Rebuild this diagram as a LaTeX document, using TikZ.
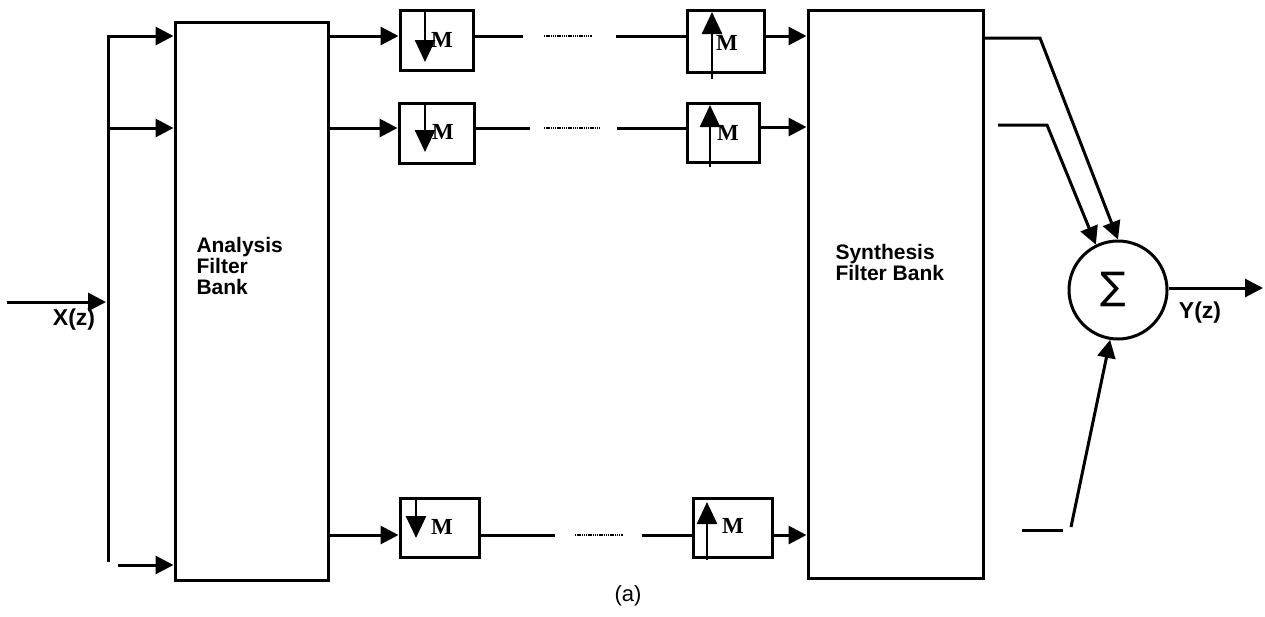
\documentclass[tikz,border=0pt]{standalone}
\usepackage{fontspec}
\setmainfont{Liberation Sans}
\newfontfamily\timesf{Liberation Serif}
\newfontfamily\dejavu{DejaVu Sans}
\usetikzlibrary{arrows.meta}
\begin{document}
\begin{tikzpicture}[x=1pt,y=-1pt, line width=3pt,
  arr/.style={-{Triangle[length=18pt,width=18pt]}},
  inarr/.style={line width=2.6pt,-{Triangle[length=22pt,width=20pt]}},
  blk/.style={draw, rectangle, inner sep=0pt},
  lbl/.style={font=\fontsize{21}{21}\selectfont\bfseries, align=left, inner sep=0pt},
  sig/.style={font=\fontsize{23}{23}\selectfont\bfseries, inner sep=0pt},
  mlab/.style={font=\timesf\fontsize{23}{23}\selectfont\bfseries, inner sep=0pt},
  dots/.style={line width=2.2pt, dash pattern=on 1.4pt off 0.8pt}]
\useasboundingbox (0,0) rectangle (1265,616);

% main blocks
\node[blk, minimum width=153pt, minimum height=558pt] (ana) at (251.5,301) {};
\node[lbl, anchor=north west] (anat) at (195,236) {Analysis\\Filter\\Bank};
\node[blk, minimum width=175pt, minimum height=568pt] (syn) at (895.5,294) {};
\node[lbl, anchor=north west] (synt) at (834,243) {Synthesis\\Filter Bank};

% down-samplers
\node[blk, minimum width=73pt, minimum height=60pt] (d1) at (436.5,40) {};
\node[blk, minimum width=75pt, minimum height=60pt] (d2) at (436.5,133) {};
\node[blk, minimum width=79pt, minimum height=59pt] (d3) at (439.5,527.5) {};
% up-samplers
\node[blk, minimum width=77pt, minimum height=62pt] (u1) at (725.5,41) {};
\node[blk, minimum width=72pt, minimum height=59pt] (u2) at (723,132.5) {};
\node[blk, minimum width=79pt, minimum height=59pt] (u3) at (732.5,527.5) {};

% M labels
\node[mlab] (m1) at (442,40) {M};
\node[mlab] (m2) at (443,132) {M};
\node[mlab] (m3) at (442,527) {M};
\node[mlab] (m4) at (727,43) {M};
\node[mlab] (m5) at (728,133) {M};
\node[mlab] (m6) at (733,526) {M};

% inner arrows
\draw[inarr] (d1.north -| 425,0) -- (425,62);
\draw[inarr] (d2.north -| 425,0) -- (425,152);
\draw[inarr] (d3.north -| 416,0) -- (416,538);
\draw[inarr] (712,79) -- (712,12);
\draw[inarr] (710,167) -- (710,105);
\draw[inarr] (707,560) -- (707,502);

% summer
\node[draw, circle, minimum size=98pt, inner sep=0pt] (sum) at (1118,290) {};
\node[font=\dejavu\fontsize{38}{38}\selectfont, inner sep=0pt] (sigma) at (1113,289) {∑};

% input
\coordinate (xin) at (7,302);
\coordinate (bustop) at (108,36);
\coordinate (busbot) at (108,562);
\draw[arr] (xin) -- (106,302);
\node[sig] (xlab) at (74,320) {X(z)};
\draw[arr] (busbot) -- (bustop) -- (ana.west |- bustop);
\draw[arr] (108,128) -- (ana.west |- 0,128);
\draw[arr] (118,565) -- (ana.west |- 0,565);

% analysis -> down-samplers
\draw[arr] (ana.east |- 0,36) -- (d1.west |- 0,36);
\draw[arr] (ana.east |- 0,128) -- (d2.west |- 0,128);
\draw[arr] (ana.east |- 0,535) -- (d3.west |- 0,535);

% down -> up (broken lines)
\draw (d1.east |- 0,36) -- (523,36);
\draw[dots] (544,36) -- (592,36);
\draw (616,36) -- (u1.west |- 0,36);
\draw (d2.east |- 0,128) -- (530,128);
\draw[dots] (544,128) -- (600,128);
\draw (617,128) -- (u2.west |- 0,128);
\draw (d3.east |- 0,535) -- (555,535);
\draw[dots] (575,535) -- (623,535);
\draw (642,535) -- (u3.west |- 0,535);

% up-samplers -> synthesis
\draw[arr] (u1.east |- 0,36) -- (syn.west |- 0,36);
\draw[arr] (u2.east |- 0,127) -- (syn.west |- 0,127);
\draw[arr] (u3.east |- 0,535) -- (syn.west |- 0,535);

% synthesis -> summer
\coordinate (b1) at (1040,38);
\draw[arr] (syn.east |- b1) -- (b1) -- (sum.north);
\coordinate (s2) at (998,125);
\coordinate (b2) at (1047,125);
\draw[arr] (s2) -- (b2) -- (sum.116);
\coordinate (s3) at (1022,530);
\coordinate (e3) at (1063,530);
\coordinate (s3b) at (1071,527);
\draw (s3) -- (e3);
\draw[arr] (s3b) -- (sum.-99);

% output
\coordinate (yout) at (1263,288);
\draw[arr] (sum.east |- yout) -- (yout);
\node[sig] (ylab) at (1200,313) {Y(z)};

% caption
\node[font=\fontsize{22}{22}\selectfont, inner sep=0pt] (cap) at (628,596) {(a)};
\end{tikzpicture}
\end{document}
